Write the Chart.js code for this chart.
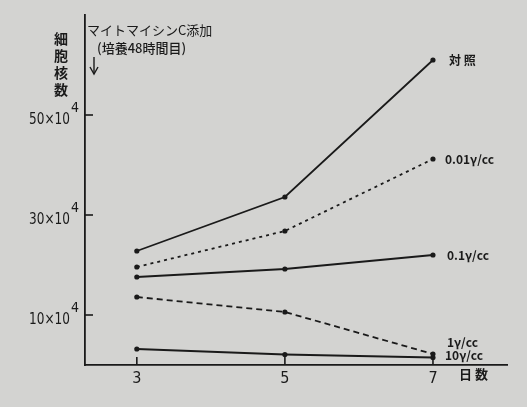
<!DOCTYPE html>
<html><head><meta charset="utf-8">
<script src="https://cdn.jsdelivr.net/npm/chart.js@4/dist/chart.umd.min.js"></script>
<style>html,body{margin:0;padding:0;background:#d3d3d1;}#wrap{width:527px;height:407px;position:relative;}</style>
</head><body><div id="wrap"><canvas id="c" width="527" height="407"></canvas></div>
<script>
const days = [3, 5, 7];
const seriesNames = ['対 照', '0.01γ/cc', '0.1γ/cc', '1γ/cc', '10γ/cc'];
const control = [22.8, 33.6, 61];
const dose001 = [19.6, 26.8, 41.2];
const dose01 = [17.6, 19.2, 22];
const dose1 = [13.6, 10.6, 2.2];
const dose10 = [3.2, 2.1, 1.5];
const yTickValues = [10, 30, 50];
const yTickLabels = ['10×10', '30×10', '50×10'];
const yTickExp = '4';
const xTickLabels = ['3', '5', '7'];
const yTitle = ['細', '胞', '核', '数'];
const note1 = 'マイトマイシンC添加';
const note2 = '(培養48時間目)';
const xTitle = '日 数';

const allSeries = [control, dose001, dose01, dose1, dose10];
const dashes = [[], [3, 4], [], [6, 4], []];
const labelOffsets = [[16, 0], [12, 0], [14, 0], [14, -12], [12, -2]];

const ink = '#1a1a1a';
const jp = '"Noto Sans CJK JP", sans-serif';
const lat = '"DejaVu Sans Condensed", "DejaVu Sans", sans-serif';

const decor = {
  id: 'decor',
  afterDraw(chart) {
    const ctx = chart.ctx;
    const xs = chart.scales.x, ys = chart.scales.y;
    const ca = chart.chartArea;
    ctx.save();
    ctx.strokeStyle = ink; ctx.fillStyle = ink; ctx.lineWidth = 1.6;
    // y ticks (inward)
    yTickValues.forEach((v, i) => {
      const y = ys.getPixelForValue(v);
      ctx.beginPath(); ctx.moveTo(ca.left, y); ctx.lineTo(ca.left + 8, y); ctx.stroke();
      ctx.save();
      ctx.translate(ca.left - 15, y + 5);
      ctx.scale(0.84, 1);
      ctx.font = '16px ' + lat; ctx.textAlign = 'right'; ctx.textBaseline = 'middle';
      ctx.fillText(yTickLabels[i], 0, 0);
      ctx.restore();
      ctx.font = '14px ' + lat; ctx.textAlign = 'left'; ctx.textBaseline = 'middle';
      ctx.fillText(yTickExp, ca.left - 14, y - 7);
    });
    // x ticks (inward)
    days.forEach((d, i) => {
      const x = xs.getPixelForValue(d);
      ctx.beginPath(); ctx.moveTo(x, ca.bottom); ctx.lineTo(x, ca.bottom - 8); ctx.stroke();
      ctx.font = '16px ' + lat; ctx.textAlign = 'center'; ctx.textBaseline = 'top';
      ctx.fillText(xTickLabels[i], x, ca.bottom + 6);
    });
    ctx.font = 'bold 13px ' + jp; ctx.textAlign = 'left'; ctx.textBaseline = 'top';
    ctx.fillText(xTitle, xs.getPixelForValue(7) + 26, ca.bottom + 3);
    // y title vertical
    ctx.font = 'bold 14px ' + jp; ctx.textAlign = 'center'; ctx.textBaseline = 'middle';
    yTitle.forEach((ch, i) => ctx.fillText(ch, ca.left - 24, 39 + i * 17));
    // notes
    ctx.font = '13px ' + jp; ctx.textAlign = 'left';
    ctx.fillText(note1, ca.left + 2, 30);
    ctx.font = '500 13px ' + jp;
    ctx.fillText(note2, ca.left + 12, 48);
    // arrow
    const ax = ca.left + 9;
    ctx.lineWidth = 1.4;
    ctx.beginPath(); ctx.moveTo(ax, 57); ctx.lineTo(ax, 74); ctx.stroke();
    ctx.beginPath(); ctx.moveTo(ax - 4, 67); ctx.lineTo(ax, 74); ctx.lineTo(ax + 4, 67); ctx.stroke();
    // end labels
    ctx.font = 'bold 12px ' + jp; ctx.textAlign = 'left'; ctx.textBaseline = 'middle';
    allSeries.forEach((s, i) => {
      const x = xs.getPixelForValue(days[2]);
      const y = ys.getPixelForValue(s[2]);
      ctx.fillText(seriesNames[i], x + labelOffsets[i][0], y + labelOffsets[i][1]);
    });
    ctx.restore();
  }
};

new Chart(document.getElementById('c'), {
  type: 'line',
  data: {
    datasets: allSeries.map((s, i) => ({
      label: seriesNames[i],
      data: s.map((v, j) => ({ x: days[j], y: v })),
      borderColor: ink, backgroundColor: ink,
      borderWidth: 1.8, borderDash: dashes[i],
      pointRadius: 2.6, pointBackgroundColor: ink, pointBorderWidth: 0,
      tension: 0, fill: false
    }))
  },
  options: {
    responsive: false, animation: false,
    layout: { padding: { left: 85, right: 20, top: 15, bottom: 42 } },
    plugins: { legend: { display: false }, tooltip: { enabled: false } },
    scales: {
      x: { type: 'linear', min: 2.3, max: 8,
        grid: { display: false, drawTicks: false },
        border: { display: true, color: ink, width: 1.8 },
        ticks: { display: false } },
      y: { min: 0, max: 70,
        grid: { display: false, drawTicks: false },
        border: { display: true, color: ink, width: 1.8 },
        ticks: { display: false } }
    }
  },
  plugins: [decor]
});
</script></body></html>
